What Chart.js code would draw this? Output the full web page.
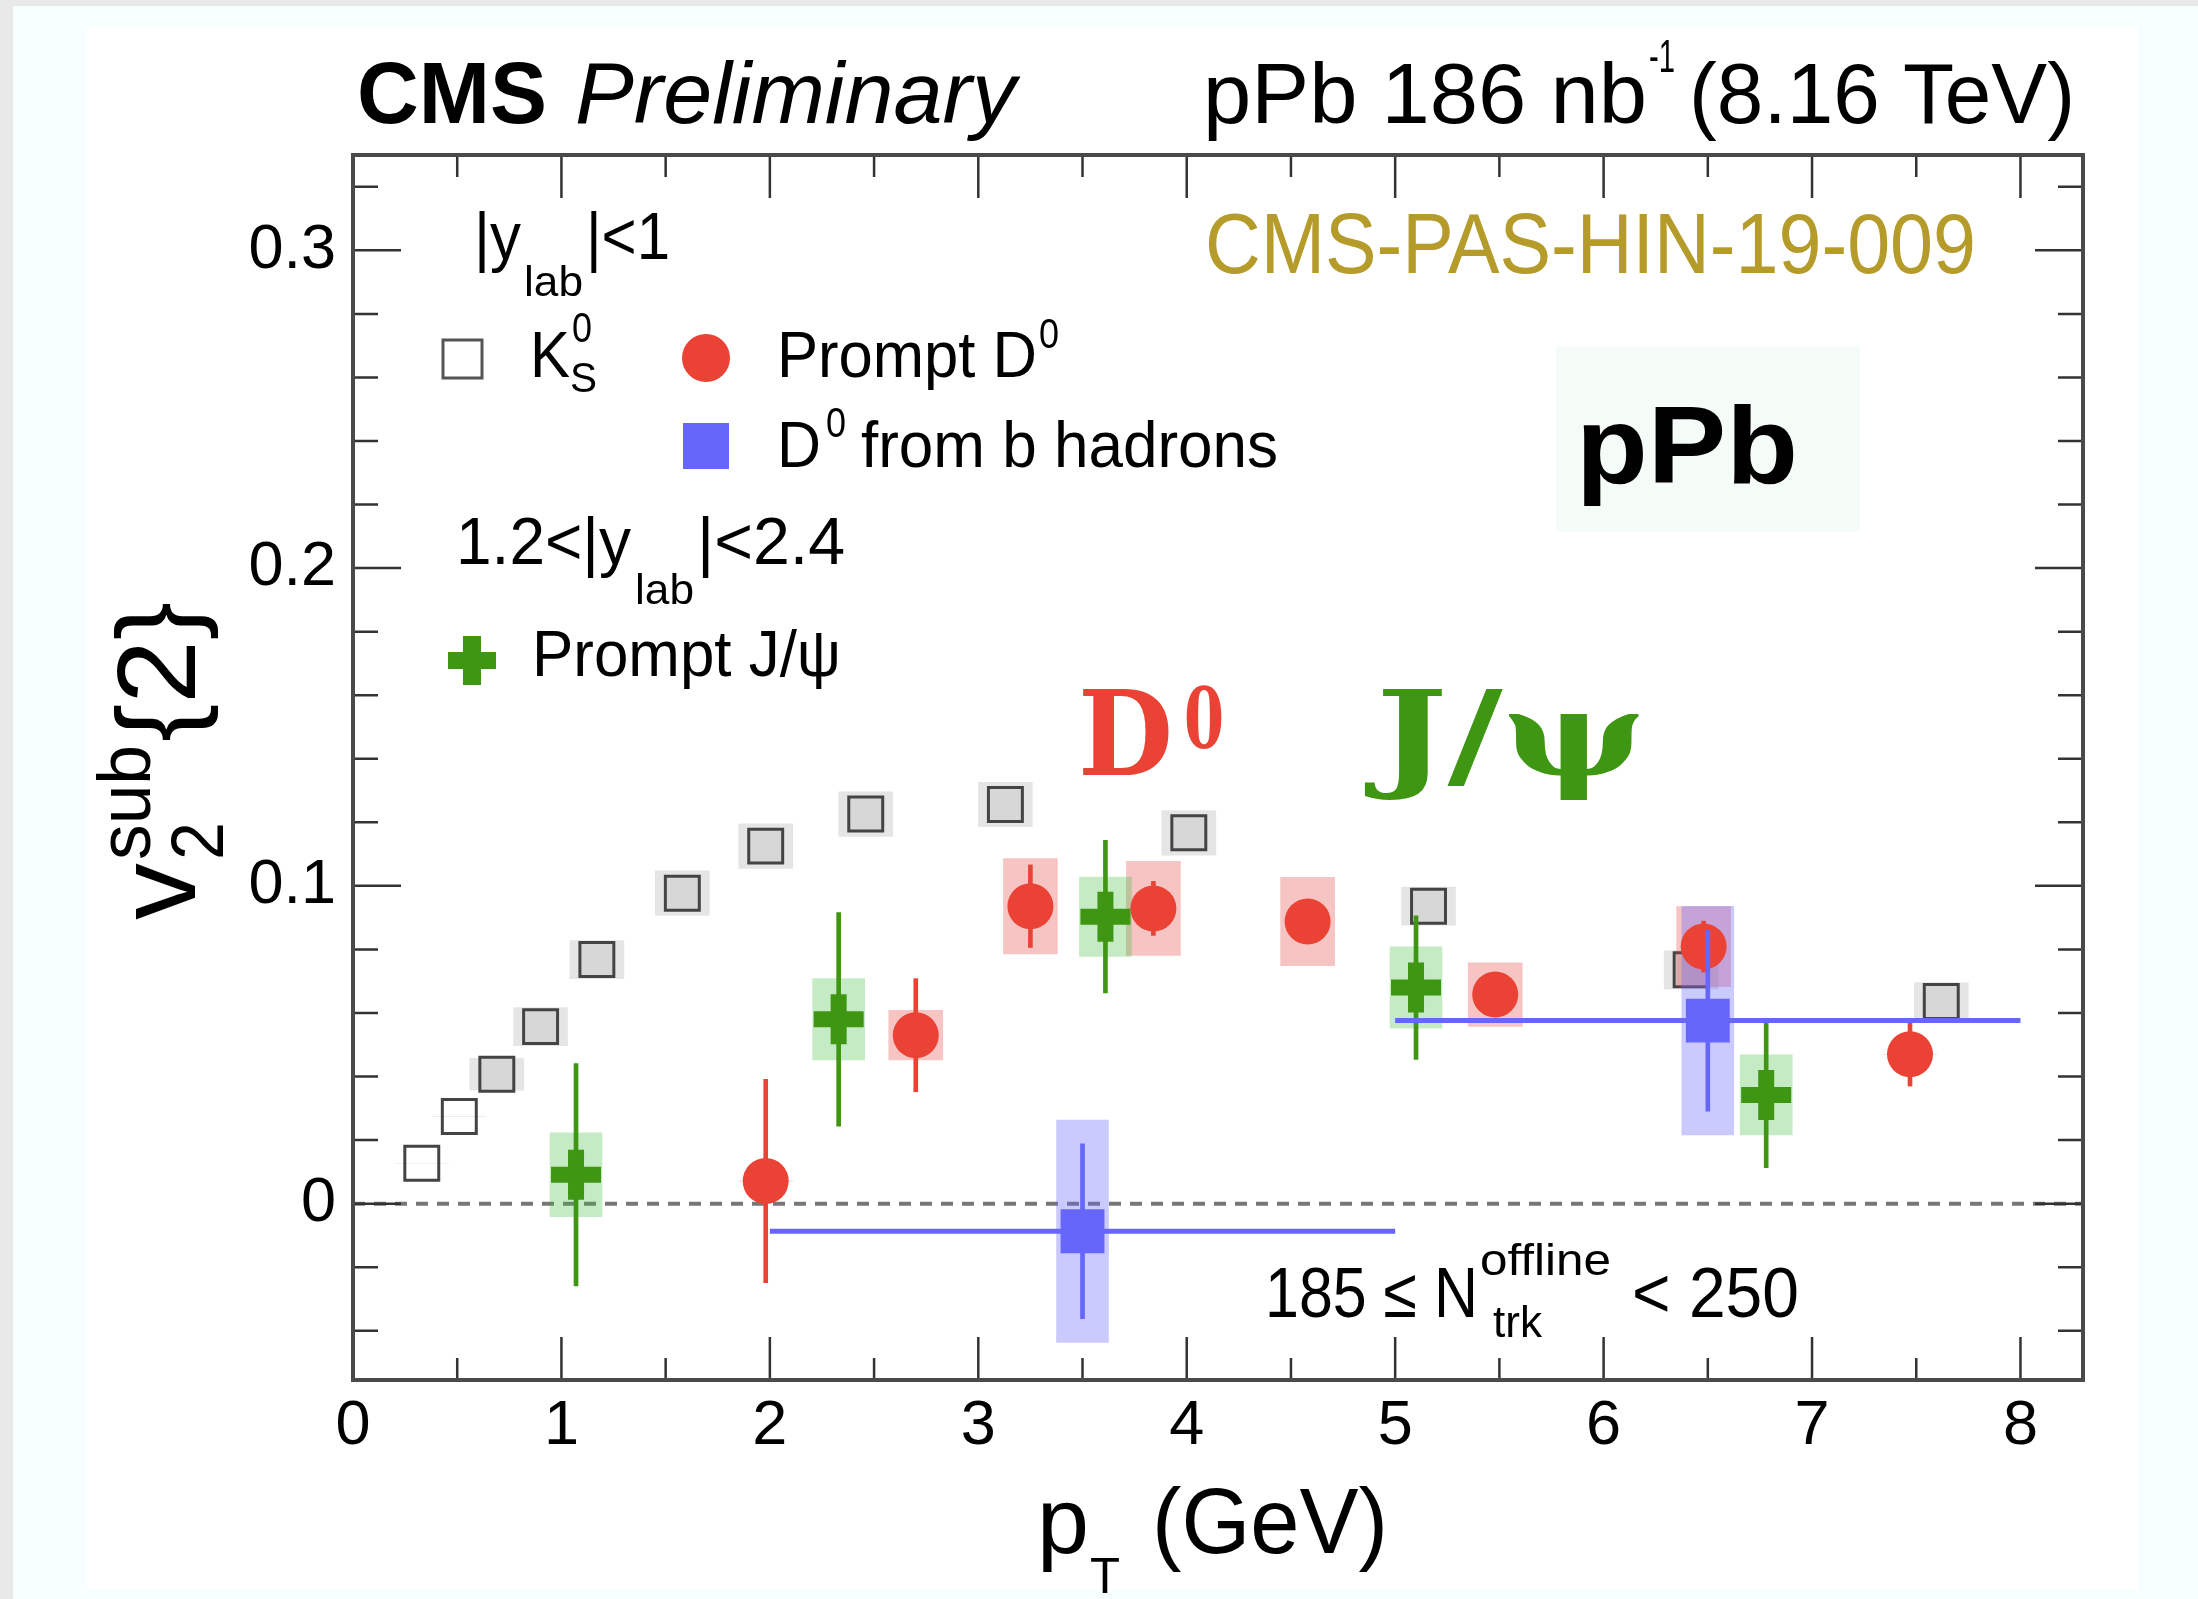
<!doctype html>
<html lang="en">
<head>
<meta charset="utf-8">
<title>v2 vs pT in pPb at 8.16 TeV</title>
<script src="https://cdn.jsdelivr.net/npm/chart.js@4.4.1/dist/chart.umd.min.js"></script>
<style>
  html, body { margin: 0; padding: 0; background: #e9e9e9; }
  canvas { display: block; }
</style>
</head>
<body>
<canvas id="v2Chart" width="2198" height="1599"></canvas>
<script>
// K0S, |y_lab| < 1
const k0sPt   = [0.33, 0.51, 0.69, 0.90, 1.17, 1.58, 1.98, 2.46, 3.13, 4.01, 5.16, 6.42, 7.62];
const k0sV2   = [0.0127, 0.0274, 0.0407, 0.0557, 0.0768, 0.0977, 0.1125, 0.1226, 0.1256, 0.1167, 0.0936, 0.0736, 0.0636];
const k0sSyst = [0, 0, 0.005, 0.006, 0.006, 0.007, 0.007, 0.007, 0.007, 0.007, 0.006, 0.006, 0.006];

// prompt D0, |y_lab| < 1
const d0Pt   = [1.98, 2.70, 3.25, 3.84, 4.58, 5.48, 6.48, 7.47];
const d0V2   = [0.0071, 0.053, 0.0936, 0.0929, 0.0888, 0.0658, 0.0809, 0.047];
const d0Stat = [0.032, 0.0178, 0.013, 0.0085, 0.006, 0.006, 0.008, 0.010];
const d0Syst = [0, 0.0078, 0.015, 0.0148, 0.0139, 0.010, 0.0126, 0];

// prompt J/psi, 1.2 < |y_lab| < 2.4
const jpsiPt   = [1.07, 2.33, 3.61, 5.10, 6.78];
const jpsiV2   = [0.0091, 0.058, 0.0903, 0.068, 0.0342];
const jpsiStat = [0.035, 0.0336, 0.024, 0.0226, 0.0229];
const jpsiSyst = [0.0132, 0.0128, 0.0125, 0.0128, 0.0126];

// D0 from b hadrons, wide pT bins
const bPt   = [3.5, 6.5];
const bLo   = [2, 5];
const bHi   = [5, 8];
const bV2   = [-0.0087, 0.0576];
const bStat = [0.0275, 0.0285];
const bSyst = [0.035, 0.036];

// axis ranges and ticks
const xMin = 0, xMax = 8.3, xStep = 0.5;
const yMin = -0.0555, yMax = 0.33, yStep = 0.02;

const SANS = '"Liberation Sans", Arial, Helvetica, sans-serif';
const SLAB = '"DejaVu Serif", serif';
const RED = 'rgb(234,67,53)';
const GREEN = 'rgb(62,150,18)';
const BLUE = 'rgb(102,102,250)';
const OLIVE = 'rgb(181,155,42)';

const band = (xs, ys, es) => xs.map((x, i) => ({ x: x, y: [ys[i] - es[i], ys[i] + es[i]] }));
const pts = (xs, ys) => xs.map((x, i) => ({ x: x, y: ys[i] }));

// horizontal bin-width lines, broken between bins
const bBins = [];
bPt.forEach((x, i) => {
  if (i > 0) bBins.push({ x: bLo[i], y: null });
  bBins.push({ x: bLo[i], y: bV2[i] }, { x: bHi[i], y: bV2[i] });
});

const boxSet = (data, color, w, order) => ({
  type: 'bar', data: data, backgroundColor: color, borderWidth: 0,
  barThickness: w, grouped: false, order: order
});

const datasets = [
  { type: 'line', data: [{ x: xMin, y: 0 }, { x: xMax, y: 0 }], borderColor: '#777',
    borderWidth: 4, borderDash: [12, 9], pointRadius: 0, order: 100 },

  boxSet(band(k0sPt, k0sV2, k0sSyst), 'rgba(0,0,0,0.10)', 54, 95),
  { data: pts(k0sPt, k0sV2), pointStyle: 'rect', pointRadius: 24, borderWidth: 3,
    borderColor: '#444',
    backgroundColor: k0sSyst.map(s => s > 0 ? 'rgba(0,0,0,0.06)' : 'rgba(0,0,0,0)'),
    order: 94 },

  boxSet(band(d0Pt, d0V2, d0Syst), 'rgba(230,60,60,0.30)', 54, 90),
  boxSet(band(jpsiPt, jpsiV2, jpsiSyst), 'rgba(60,190,60,0.30)', 52, 89),
  boxSet(band(bPt, bV2, bSyst), 'rgba(102,102,255,0.35)', 52, 88),

  boxSet(band(d0Pt, d0V2, d0Stat), RED, 4, 80),
  { data: pts(d0Pt, d0V2), pointStyle: 'circle', pointRadius: 23, borderWidth: 0,
    backgroundColor: RED, order: 79 },

  boxSet(band(jpsiPt, jpsiV2, jpsiStat), GREEN, 4, 78),
  { data: pts(jpsiPt, jpsiV2), pointStyle: 'cross', pointRadius: 25, borderWidth: 16,
    borderColor: GREEN, order: 77 },

  { type: 'line', data: bBins, borderColor: BLUE, borderWidth: 5, pointRadius: 0,
    spanGaps: false, order: 76 },
  boxSet(band(bPt, bV2, bStat), BLUE, 4, 75),
  { data: pts(bPt, bV2), pointStyle: 'rect', pointRadius: 31, borderWidth: 0,
    backgroundColor: BLUE, order: 74 }
];

// text with optional fitted width
function txt(ctx, s, x, y, size, opt) {
  opt = opt || {};
  ctx.save();
  ctx.font = (opt.style || 'normal') + ' ' + (opt.weight || 'normal') + ' ' + size + 'px ' + (opt.family || SANS);
  ctx.fillStyle = opt.color || '#000';
  ctx.textAlign = 'left';
  ctx.textBaseline = 'alphabetic';
  ctx.translate(x, y);
  if (opt.w) ctx.scale(opt.w / ctx.measureText(s).width, 1);
  ctx.fillText(s, 0, 0);
  ctx.restore();
}

const isMajorX = v => Math.abs(v - Math.round(v)) < 1e-6;
const isMajorY = v => Math.abs(v * 10 - Math.round(v * 10)) < 1e-6;

const rootFrame = {
  id: 'rootFrame',
  beforeDraw(chart) {
    const ctx = chart.ctx;
    ctx.save();
    ctx.fillStyle = '#e9e9e9';
    ctx.fillRect(0, 0, chart.width, chart.height);
    ctx.fillStyle = '#f7fefe';
    ctx.fillRect(13, 6, chart.width - 13, chart.height - 6);
    ctx.fillStyle = '#ffffff';
    ctx.fillRect(87, 27, 2051, 1563);
    // label box behind "pPb"
    ctx.fillStyle = '#f5fcf7';
    ctx.fillRect(1556, 347, 304, 185);
    ctx.restore();
  },
  afterDatasetsDraw(chart) {
    const ctx = chart.ctx;
    const a = chart.chartArea;
    const xs = chart.scales.x, ys = chart.scales.y;
    ctx.save();
    ctx.strokeStyle = '#333';
    ctx.lineWidth = 2.5;
    ctx.beginPath();
    xs.ticks.forEach(t => {
      const px = xs.getPixelForValue(t.value);
      const len = isMajorX(t.value) ? 43 : 22;
      ctx.moveTo(px, a.bottom); ctx.lineTo(px, a.bottom - len);
      ctx.moveTo(px, a.top); ctx.lineTo(px, a.top + len);
    });
    ys.ticks.forEach(t => {
      const py = ys.getPixelForValue(t.value);
      const len = isMajorY(t.value) ? 48 : 25;
      ctx.moveTo(a.left, py); ctx.lineTo(a.left + len, py);
      ctx.moveTo(a.right, py); ctx.lineTo(a.right - len, py);
    });
    ctx.stroke();
    ctx.strokeStyle = '#4a4a4a';
    ctx.lineWidth = 4;
    ctx.strokeRect(a.left, a.top, a.right - a.left, a.bottom - a.top);
    ctx.restore();
  },
  afterDraw(chart) {
    const ctx = chart.ctx;

    // header
    txt(ctx, 'CMS', 357, 123, 88, { weight: 'bold', w: 190 });
    txt(ctx, 'Preliminary', 575, 123, 88, { style: 'italic', w: 441 });
    txt(ctx, 'pPb 186 nb', 1203, 123, 86, { w: 444 });
    txt(ctx, '-1', 1649, 72, 46, { w: 26 });
    txt(ctx, '(8.16 TeV)', 1689, 123, 86, { w: 386 });

    // legend, first rapidity window
    txt(ctx, '|y', 474, 259, 67, { w: 47 });
    txt(ctx, 'lab', 524, 296, 42, { w: 59 });
    txt(ctx, '|<1', 586, 259, 67, { w: 84 });

    ctx.save();
    ctx.strokeStyle = '#555';
    ctx.lineWidth = 3;
    ctx.strokeRect(443, 340, 39, 38);
    ctx.fillStyle = RED;
    ctx.beginPath();
    ctx.arc(706, 358, 24, 0, Math.PI * 2);
    ctx.fill();
    ctx.fillStyle = BLUE;
    ctx.fillRect(683, 423, 46, 46);
    ctx.fillStyle = GREEN;
    ctx.fillRect(448, 652, 48, 17);
    ctx.fillRect(463, 636, 18, 49);
    ctx.restore();

    txt(ctx, 'K', 530, 377, 65, { w: 40 });
    txt(ctx, '0', 572, 342, 42, { w: 20 });
    txt(ctx, 'S', 570, 392, 42, { w: 27 });
    txt(ctx, 'Prompt D', 777, 377, 65, { w: 260 });
    txt(ctx, '0', 1039, 348, 42, { w: 20 });
    txt(ctx, 'D', 777, 467, 65, { w: 44 });
    txt(ctx, '0', 826, 437, 42, { w: 20 });
    txt(ctx, 'from b hadrons', 861, 467, 65, { w: 417 });

    // legend, forward rapidity window
    txt(ctx, '1.2<|y', 456, 564, 67, { w: 175 });
    txt(ctx, 'lab', 635, 604, 42, { w: 59 });
    txt(ctx, '|<2.4', 697, 564, 67, { w: 148 });
    txt(ctx, 'Prompt J/\u03c8', 532, 676, 65, { w: 309 });

    // labels inside the frame
    txt(ctx, 'CMS-PAS-HIN-19-009', 1205, 273, 86, { color: OLIVE, w: 771 });
    txt(ctx, 'pPb', 1576, 483, 110, { weight: 'bold', w: 222 });
    txt(ctx, 'D', 1078, 775, 118, { family: SLAB, weight: 'bold', color: RED, w: 95 });
    txt(ctx, '0', 1184, 748, 84, { family: SLAB, weight: 'bold', color: RED, w: 40 });
    txt(ctx, 'J/\u03c8', 1376, 775, 118, { family: SLAB, weight: 'bold', color: GREEN, w: 269 });

    txt(ctx, '185 \u2264 N', 1265, 1317, 70, { w: 213 });
    txt(ctx, 'offline', 1480, 1275, 44, { w: 131 });
    txt(ctx, 'trk', 1493, 1337, 44, { w: 49 });
    txt(ctx, '< 250', 1632, 1317, 70, { w: 167 });

    // axis titles
    txt(ctx, 'p', 1037, 1553, 92, { w: 52 });
    txt(ctx, 'T', 1090, 1593, 50, { w: 30 });
    txt(ctx, '(GeV)', 1152, 1553, 92, { w: 236 });

    ctx.save();
    ctx.translate(195, 920);
    ctx.rotate(-Math.PI / 2);
    txt(ctx, 'v', 0, 0, 112, { w: 57 });
    txt(ctx, 'sub', 60, -45, 74, { w: 115 });
    txt(ctx, '2', 60, 28, 74, { w: 38 });
    txt(ctx, '{2}', 178, 0, 112, { w: 140 });
    ctx.restore();
  }
};

const tickFont = { family: SANS, size: 63, lineHeight: 1 };

new Chart(document.getElementById('v2Chart'), {
  type: 'scatter',
  data: { datasets: datasets },
  options: {
    responsive: false,
    animation: false,
    events: [],
    layout: { padding: { left: 0, top: 155, right: 115, bottom: 0 } },
    plugins: { legend: { display: false }, tooltip: { enabled: false } },
    scales: {
      x: {
        type: 'linear', min: xMin, max: xMax, offset: false,
        grid: { display: false, drawTicks: false, offset: false },
        border: { display: false },
        ticks: {
          stepSize: xStep, autoSkip: false, includeBounds: false, maxRotation: 0,
          padding: 15, color: '#000', font: tickFont,
          callback: v => isMajorX(v) ? String(Math.round(v)) : ''
        },
        afterFit: s => { s.height = 219; }
      },
      y: {
        type: 'linear', min: yMin, max: yMax,
        grid: { display: false, drawTicks: false },
        border: { display: false },
        ticks: {
          stepSize: yStep, autoSkip: false, includeBounds: false,
          padding: 17, color: '#000', font: tickFont,
          callback: v => isMajorY(v) ? String(Math.round(v * 10) / 10) : ''
        },
        afterFit: s => { s.width = 353; }
      }
    }
  },
  plugins: [rootFrame]
});
</script>
</body>
</html>
